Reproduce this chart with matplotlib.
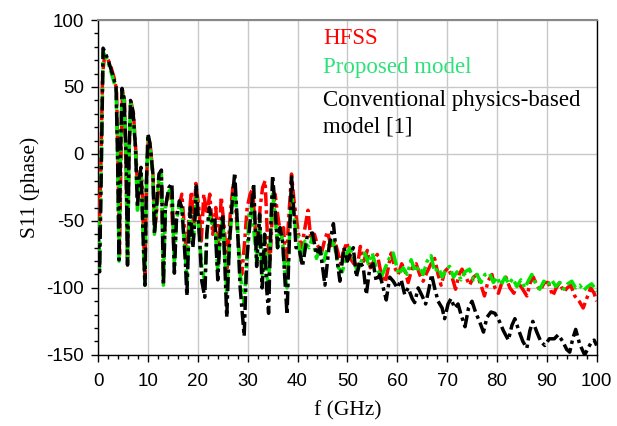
import matplotlib
matplotlib.use("Agg")
import matplotlib.pyplot as plt
from matplotlib.ticker import MultipleLocator

# ---- data (f in GHz, S11 phase in degrees) ----
hfss_f = [0.0, 0.2, 0.5, 0.9, 1.3, 1.8, 2.5, 3.2, 3.7, 4.0, 4.3, 4.6, 4.9, 5.3, 5.6, 5.9, 6.2, 6.6, 7.1, 7.6,
          8.0, 8.4, 8.8, 9.1, 9.4, 9.7, 10.1, 10.5, 11.0, 11.4, 11.8, 12.3, 12.8, 13.1, 13.5, 14.0, 14.6, 15.2,
          15.7, 16.3, 16.8, 17.4, 17.8, 18.2, 18.7, 19.2, 19.6, 20.2, 20.7, 21.2, 21.8, 22.4, 23.0, 23.6, 24.2,
          24.7, 25.3, 25.9, 26.5, 27.1, 27.6, 28.2, 28.8, 29.3, 29.9, 30.5, 31.0, 31.5, 32.0, 32.5, 33.0, 33.5,
          34.0, 34.5, 35.0, 35.5, 36.0, 36.6, 37.2, 37.7, 38.2, 38.8, 39.3,
          40.2, 40.8, 41.5, 42.1, 42.7, 43.4, 44.0, 44.8, 45.4, 46.0, 46.8, 47.5, 48.2, 48.7, 49.3, 49.9, 50.6,
          51.3, 52.0, 52.6, 53.3, 54.0, 54.6, 55.3, 56.0, 56.8, 57.6, 58.2, 58.8, 59.5,
          60.2, 60.9, 61.6, 62.2, 63.0, 63.8, 64.5, 65.2, 66.0, 66.8, 67.5, 68.2, 68.8, 69.5, 70.2, 71.0, 71.7,
          72.4, 73.0, 73.8, 74.5, 75.3, 76.0, 76.8, 77.5, 78.2, 79.0, 79.6,
          80.3, 81.0, 81.8, 82.6, 83.4, 84.2, 85.0, 86.0, 86.7, 87.3, 88.0, 88.7, 89.5, 90.3, 91.2, 91.9, 92.6,
          93.4, 94.1, 94.8, 95.6, 96.5, 97.3, 98.0, 98.8, 99.5, 100.0]
hfss_v = [-30, -60, -20, 60, 73, 72, 66, 57, 48, -10, -75, 0, 47, 40, -10, -78, 0, 39, 30, 0,
          -35, -15, -20, -60, -90, -20, 13, 5, -15, -55, -40, -20, -25, -85, -40, -30, -30, -70,
          -45, -38, -30, -60, -78, -50, -28, -55, -22, -40, -65, -30, -45, -30, -60, -40, -70,
          -32, -55, -85, -45, -22, -40, -70, -90, -70, -40, -30, -26, -55, -70, -40, -25, -20,
          -65, -80, -40, -30, -45, -60, -55, -85, -50, -15, -35,
          -60, -70, -55, -42, -65, -60, -68, -74, -65, -58, -70, -65, -75, -82, -72, -66, -78,
          -82, -84, -69, -80, -72, -85, -80, -75, -90, -96, -85, -74, -85,
          -90, -82, -88, -96, -85, -82, -90, -95, -88, -82, -78, -90, -98, -88, -85, -92, -101,
          -90, -86, -92, -98, -92, -90, -98, -106, -95, -90, -100,
          -104, -96, -92, -100, -104, -96, -100, -106, -96, -92, -98, -102, -96, -96, -106, -100, -96,
          -103, -100, -98, -106, -110, -115, -108, -100, -104, -110]

prop_f = [0.0, 0.3, 0.6, 1.0, 1.5, 2.2, 3.0, 3.6, 3.9, 4.2, 4.5, 4.8, 5.2, 5.6, 5.9, 6.2, 6.5, 7.0, 7.5, 7.9,
          8.2, 8.6, 9.1, 9.4, 9.7, 10.0, 10.4, 11.0, 11.3, 11.6, 12.2, 12.7, 13.1, 13.5, 14.2, 14.8, 15.3, 15.7,
          16.3, 16.8, 17.5, 17.8, 18.2, 18.5, 19.0, 19.4, 19.7, 20.3, 20.8, 21.4, 21.8, 22.3, 22.8, 23.4, 24.0,
          24.5, 25.0, 25.4, 25.8, 26.3, 26.9, 27.4, 27.9, 28.5, 29.3, 29.8, 30.3, 30.8, 31.3, 31.8, 32.4, 32.9,
          33.4, 33.8, 34.2, 34.6, 35.0, 35.5, 36.0, 36.5, 37.0, 37.5, 37.9, 38.4, 38.8, 39.3, 39.7,
          40.0, 40.7, 41.5, 42.3, 43.0, 43.8, 44.5, 45.3, 46.0, 46.8, 47.5, 48.2, 49.0, 49.8, 50.5, 51.2, 52.0,
          52.8, 53.5, 54.2, 55.0, 55.8, 56.8, 57.6, 58.4, 59.2,
          60.3, 61.2, 62.0, 62.8, 63.6, 64.4, 65.2, 66.0, 66.8, 67.5, 68.3, 69.0, 69.8, 70.5, 71.3, 72.0, 72.8,
          73.6, 74.5, 75.3, 76.0, 76.8, 77.6, 78.5, 79.3,
          80.0, 80.8, 81.6, 82.4, 83.2, 84.0, 84.8, 85.6, 86.4, 87.0, 87.8, 88.6, 89.4, 90.2, 91.0, 91.8, 92.6,
          93.4, 94.2, 95.0, 95.8, 96.6, 97.4, 98.2, 99.0, 99.6, 100.0]
prop_v = [-50, -85, -20, 76, 73, 66, 56, 48, 0, -80, 0, 47, 41, 0, -83, 0, 38, 30, 3, -42,
          -22, -12, -70, -98, -20, 13, 6, -18, -60, -45, -18, -15, -98, -40, -28, -25, -85, -50,
          -38, -42, -75, -95, -60, -45, -68, -50, -30, -60, -85, -95, -60, -45, -52, -50, -88,
          -60, -48, -75, -105, -70, -40, -25, -50, -90, -112, -80, -45, -40, -60, -80, -50, -90,
          -60, -90, -100, -60, -30, -45, -70, -55, -65, -90, -100, -60, -30, -45, -60,
          -60, -80, -65, -70, -62, -78, -70, -80, -70, -64, -70, -85, -88, -75, -70, -78, -88,
          -80, -74, -82, -74, -85, -92, -85, -78, -74,
          -90, -85, -90, -79, -88, -84, -90, -80, -76, -88, -85, -92, -86, -84, -92, -88, -94,
          -88, -86, -94, -90, -96, -90, -89, -96,
          -92, -98, -92, -97, -93, -99, -94, -100, -94, -90, -97, -101, -95, -98, -94, -99, -96,
          -101, -97, -95, -100, -98, -102, -99, -97, -100, -103]

conv_f = [0.0, 0.3, 0.6, 1.0, 1.5, 2.2, 3.0, 3.6, 3.9, 4.2, 4.5, 4.8, 5.2, 5.6, 5.9, 6.2, 6.5, 7.0, 7.5, 7.9,
          8.2, 8.6, 9.1, 9.4, 9.7, 10.0, 10.4, 11.0, 11.3, 11.6, 12.2, 12.7, 13.1, 13.5, 14.2, 14.8, 15.3, 15.7,
          16.3, 16.8, 17.5, 17.8, 18.2, 18.5, 19.0, 19.4, 19.7, 20.3, 20.8, 21.4, 21.8, 22.3, 22.8, 23.4, 24.0,
          24.5, 25.0, 25.4, 25.8, 26.3, 26.9, 27.4, 27.9, 28.5, 29.3, 29.8, 30.5, 31.2, 31.8, 32.4, 32.9, 33.4,
          33.8, 34.2, 34.6, 35.0, 35.5, 36.0, 36.5, 37.0, 37.5, 37.9, 38.4, 38.8, 39.3, 39.7,
          40.3, 41.0, 42.0, 43.0, 43.8, 44.5, 45.5, 46.3, 47.2, 47.8, 48.5, 49.3, 50.0, 50.6, 51.2, 51.8, 52.5,
          53.2, 53.8, 54.5, 55.2, 55.8, 56.5, 57.2, 57.8, 58.5, 59.2,
          60.0, 60.8, 61.5, 62.2, 63.0, 63.5, 64.2, 65.0, 65.7, 66.4, 66.9, 67.5, 68.2, 69.0, 69.5, 70.2, 70.8,
          71.5, 72.2, 72.8, 73.6, 74.3, 75.0, 75.7, 76.5, 77.3, 78.0, 78.8, 79.6,
          80.5, 81.3, 82.3, 83.0, 83.6, 84.4, 85.2, 86.0, 86.6, 87.2, 88.0, 88.8, 89.6, 90.5, 91.5, 92.3, 93.2,
          94.0, 94.6, 95.2, 95.8, 96.6, 97.6, 98.3, 99.0, 99.5, 100.0]
conv_v = [-55, -88, -20, 79, 75, 68, 58, 50, 0, -79, 0, 49, 42, 0, -83, 0, 40, 32, 5, -40,
          -20, -10, -70, -98, -20, 15, 8, -15, -60, -45, -15, -12, -98, -40, -25, -22, -89, -50,
          -35, -40, -80, -106, -60, -40, -70, -50, -24, -60, -95, -107, -60, -40, -50, -47, -94,
          -60, -45, -80, -122, -70, -35, -14, -50, -100, -136, -80, -50, -22, -84, -45, -100, -60,
          -100, -119, -60, -16, -40, -70, -55, -65, -95, -120, -60, -17, -45, -70,
          -70, -84, -60, -59, -75, -70, -98, -70, -52, -75, -95, -70, -80, -75, -70, -92, -80,
          -85, -105, -85, -82, -95, -90, -100, -109, -92, -95,
          -100, -94, -105, -100, -108, -111, -100, -106, -112, -100, -90, -100, -110, -115, -123, -112, -108,
          -115, -112, -120, -129, -115, -110, -118, -125, -133, -122, -118, -119,
          -125, -132, -139, -128, -123, -132, -140, -145, -132, -125, -133, -140, -143, -138, -138, -135, -140,
          -146, -148, -138, -131, -142, -150, -145, -140, -139, -143]

x_ticks = [0, 10, 20, 30, 40, 50, 60, 70, 80, 90, 100]
y_ticks = [-150, -100, -50, 0, 50, 100]
legend_labels = ["HFSS", "Proposed model", "Conventional physics-based\nmodel [1]"]

# ---- figure ----
fig = plt.figure(figsize=(6.17, 4.26), dpi=100)
ax = fig.add_axes([0.159, 0.167, 0.808, 0.786])

lw = 2.5
ax.plot(hfss_f, hfss_v, color="#ff0000", lw=lw, dashes=(4, 1.2, 1, 1.2), zorder=3)
ax.plot(prop_f, prop_v, color="#00e600", lw=lw, dashes=(4, 1.2, 1, 1.2), zorder=4)
ax.plot(conv_f, conv_v, color="#000000", lw=lw, dashes=(4, 1.2, 1, 1.2), zorder=5)

ax.set_xlim(0, 100)
ax.set_ylim(-150, 100)
ax.set_xticks(x_ticks)
ax.set_yticks(y_ticks)
ax.xaxis.set_minor_locator(MultipleLocator(2))
ax.yaxis.set_minor_locator(MultipleLocator(10))
ax.grid(True, which="major", color="#c8c8c8", lw=1.0, zorder=0)
ax.set_axisbelow(True)

tick_font = dict(family=["Liberation Sans", "DejaVu Sans"], size=13.5)
ax.set_xticklabels([str(t) for t in x_ticks], **tick_font)
ax.set_yticklabels([str(t) for t in y_ticks], **tick_font)
ax.tick_params(which="major", direction="out", length=5, width=1)
ax.tick_params(which="minor", direction="out", length=3, width=1)
ax.tick_params(axis="x", which="major", pad=8)
ax.tick_params(axis="y", which="major", pad=5)

for s in ["left", "bottom", "right"]:
    ax.spines[s].set_color("#000000")
    ax.spines[s].set_linewidth(1.0)
ax.spines["top"].set_color("#888888")
ax.spines["top"].set_linewidth(1.5)

label_font = dict(family=["Liberation Serif", "DejaVu Serif"], size=15.5)
ax.set_xlabel("f (GHz)", labelpad=8, **label_font)
ax.set_ylabel("S11 (phase)", labelpad=5, **label_font)

leg_font = dict(family=["Liberation Serif", "DejaVu Serif"], size=16.5)
ax.text(0.451, 0.946, legend_labels[0], color="#ff0000", transform=ax.transAxes,
        va="center", ha="left", zorder=6, **leg_font)
ax.text(0.451, 0.857, legend_labels[1], color="#2ee27a", transform=ax.transAxes,
        va="center", ha="left", zorder=6, **leg_font)
ax.text(0.451, 0.72, legend_labels[2], color="#000000", transform=ax.transAxes,
        va="center", ha="left", linespacing=1.3, zorder=6, **leg_font)

fig.savefig("out.png", dpi=100)
